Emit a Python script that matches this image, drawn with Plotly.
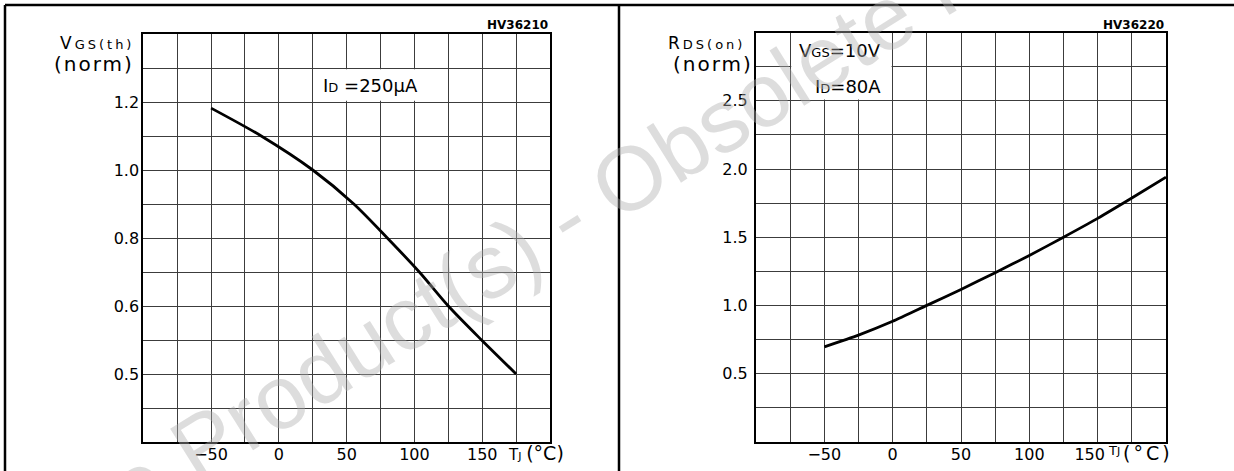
import numpy as np
import plotly.graph_objects as go

# ---------------- data ----------------
# Left: normalized gate threshold voltage vs junction temperature
tj_vgs = [-50, -13, 25, 55.3, 80, 103.6, 125, 149.5, 175]
vgs_th_norm = [1.182, 1.1, 1.0, 0.9, 0.8, 0.7, 0.6, 0.55, 0.5]

# Right: normalized on-resistance vs junction temperature
tj_rds = [-50, -25, 0, 25, 50, 75, 100, 125, 150, 175, 200]
rds_on_norm = [0.696, 0.782, 0.883, 1.0, 1.117, 1.24, 1.366, 1.5, 1.638, 1.787, 1.94]

x_tick_values = [-50, 0, 50, 100, 150]
x_tick_labels_left = ["\u221250", "0", "50", "100", "150"]
x_tick_labels_right = ["\u221250", "0", "50", "100", "150\u2002\u2002"]

vgs_tick_values = [0.5, 0.6, 0.8, 1.0, 1.2]
vgs_tick_labels = ["0.5", "0.6", "0.8", "1.0", "1.2"]
# the left graph's printed (non-uniform) scale: value -> grid row
vgs_scale_values = [0.4, 0.5, 0.6, 1.4]
vgs_scale_rows = [0, 2, 4, 12]

rds_tick_values = [0.5, 1.0, 1.5, 2.0, 2.5]
rds_tick_labels = ["0.5", "1.0", "1.5", "2.0", "2.5"]


def vgs_row(v):
    return np.interp(v, vgs_scale_values, vgs_scale_rows)


W, H = 1234, 471


def px(x):
    return x / W


def py(y):
    return 1 - y / H


FONT = "DejaVu Sans, Verdana, sans-serif"
GRID = "#3c3c3c"

fig = go.Figure()
fig.add_trace(go.Scatter(x=tj_vgs, y=vgs_row(np.array(vgs_th_norm)), mode="lines",
                         line=dict(color="black", width=2.8, shape="spline", smoothing=0.8),
                         xaxis="x", yaxis="y", hoverinfo="skip"))
fig.add_trace(go.Scatter(x=tj_rds, y=rds_on_norm, mode="lines",
                         line=dict(color="black", width=2.8, shape="spline", smoothing=0.6),
                         xaxis="x2", yaxis="y2", hoverinfo="skip"))

xcommon = dict(range=[-100, 200], tickmode="array", tickvals=x_tick_values,
               showgrid=True, gridcolor=GRID, gridwidth=1,
               minor=dict(tickmode="linear", tick0=-100, dtick=25, showgrid=True, gridcolor=GRID, gridwidth=1),
               showline=True, linecolor="black", linewidth=2, mirror=True, ticks="",
               zeroline=False, tickfont=dict(family=FONT, size=16, color="black"),
               ticklabelstandoff=-3, fixedrange=True)

fig.update_layout(
    width=W, height=H, margin=dict(l=0, r=0, t=0, b=0),
    paper_bgcolor="white", plot_bgcolor="white", showlegend=False,
    xaxis=dict(domain=[px(143.3), px(550)], anchor="y", ticktext=x_tick_labels_left, **xcommon),
    yaxis=dict(domain=[py(442), py(34)], anchor="x", range=[0, 12], tickmode="array",
               tickvals=list(vgs_row(np.array(vgs_tick_values))), ticktext=vgs_tick_labels,
               showgrid=True, gridcolor=GRID, gridwidth=1,
               minor=dict(tickmode="linear", tick0=0, dtick=1, showgrid=True, gridcolor=GRID, gridwidth=1),
               showline=True, linecolor="black", linewidth=2, mirror=True, ticks="", zeroline=False,
               tickfont=dict(family=FONT, size=16, color="black"), ticklabelstandoff=-1, fixedrange=True),
    xaxis2=dict(domain=[px(756), px(1166)], anchor="y2", ticktext=x_tick_labels_right, **xcommon),
    yaxis2=dict(domain=[py(441.7), py(32.7)], anchor="x2", range=[0, 3], tickmode="array",
                tickvals=rds_tick_values, ticktext=rds_tick_labels,
                showgrid=True, gridcolor=GRID, gridwidth=1,
                minor=dict(tickmode="linear", tick0=0, dtick=0.25, showgrid=True, gridcolor=GRID, gridwidth=1),
                showline=True, linecolor="black", linewidth=2, mirror=True, ticks="", zeroline=False,
                tickfont=dict(family=FONT, size=16, color="black"), ticklabelstandoff=3, fixedrange=True),
)

shapes = [
    # panel frame
    dict(type="line", xref="paper", yref="paper", x0=px(5), x1=1, y0=py(5), y1=py(5),
         line=dict(color="black", width=2.5)),
    dict(type="line", xref="paper", yref="paper", x0=px(5), x1=px(5), y0=0, y1=py(5),
         line=dict(color="black", width=2.5)),
    dict(type="line", xref="paper", yref="paper", x0=px(619), x1=px(619), y0=0, y1=py(5),
         line=dict(color="black", width=2.5)),
    # white label boxes hiding grid
    dict(type="rect", xref="x", yref="y", x0=25.8, x1=124.2, y0=10.04, y1=10.96,
         fillcolor="white", line=dict(width=0), layer="between"),
    dict(type="rect", xref="x2", yref="y2", x0=-74.2, x1=-0.8, y0=2.51, y1=3.0,
         fillcolor="white", line=dict(width=0), layer="between"),
]
fig.update_layout(shapes=shapes)

ann = []


def A(text, x, y, xanchor="right", size=16, xref="paper", yref="paper", yanchor="middle", **kw):
    ann.append(dict(text=text, x=x, y=y, xref=xref, yref=yref, xanchor=xanchor, yanchor=yanchor,
                    showarrow=False, font=dict(family=FONT, size=size, color="black"), **kw))


LS = "letter-spacing:3px"
# left panel texts
A("<b>HV36210</b>", px(550), py(25), size=12)
A(f"<span style='{LS}'>V</span><span style='font-size:13px;{LS}'>GS(th)</span>", px(136), py(43), size=17)
A("<span style='letter-spacing:2px'>(norm)</span>", px(136), py(64), size=20)
A("I<span style='font-size:13px'>D</span> =250\u03bcA", 31, 10.5, xanchor="left", size=18,
  xref="x", yref="y")
A("T<span style='font-size:11px'>J</span> <span style='font-size:19px'>(\u00b0C)</span>",
  px(506), py(453), xanchor="left", size=15)

# right panel texts
A("<b>HV36220</b>", px(1166), py(25), size=12)
A(f"<span style='{LS}'>R</span><span style='font-size:13px;{LS}'>DS(on)</span>", px(747), py(43), size=17)
A("<span style='letter-spacing:2px'>(norm)</span>", px(755), py(64), size=20)
A("V<span style='font-size:13px'>GS</span>=10V", -6.8, 2.866, size=18, xref="x2", yref="y2")
A("I<span style='font-size:13px'>D</span>=80A", -6.8, 2.609, size=18, xref="x2", yref="y2")
A("T<span style='font-size:11px'>J</span>", px(1106), py(450), xanchor="left", size=13)
A("<span style='letter-spacing:3px'>(\u00b0C)</span>", px(1121), py(453), xanchor="left", size=19)

# watermark
ann.append(dict(text="Obsolete Product(s) - Obsolete Product(s)", x=px(566), y=py(218),
                xref="paper", yref="paper", showarrow=False, textangle=-32,
                font=dict(family="Liberation Sans, Arial, sans-serif", size=90,
                          color="rgba(175,175,175,0.42)")))

fig.update_layout(annotations=ann)
fig.write_html("out.html", config={"displayModeBar": False},
               post_script="document.body.style.margin='0';document.body.style.overflow='hidden';")
